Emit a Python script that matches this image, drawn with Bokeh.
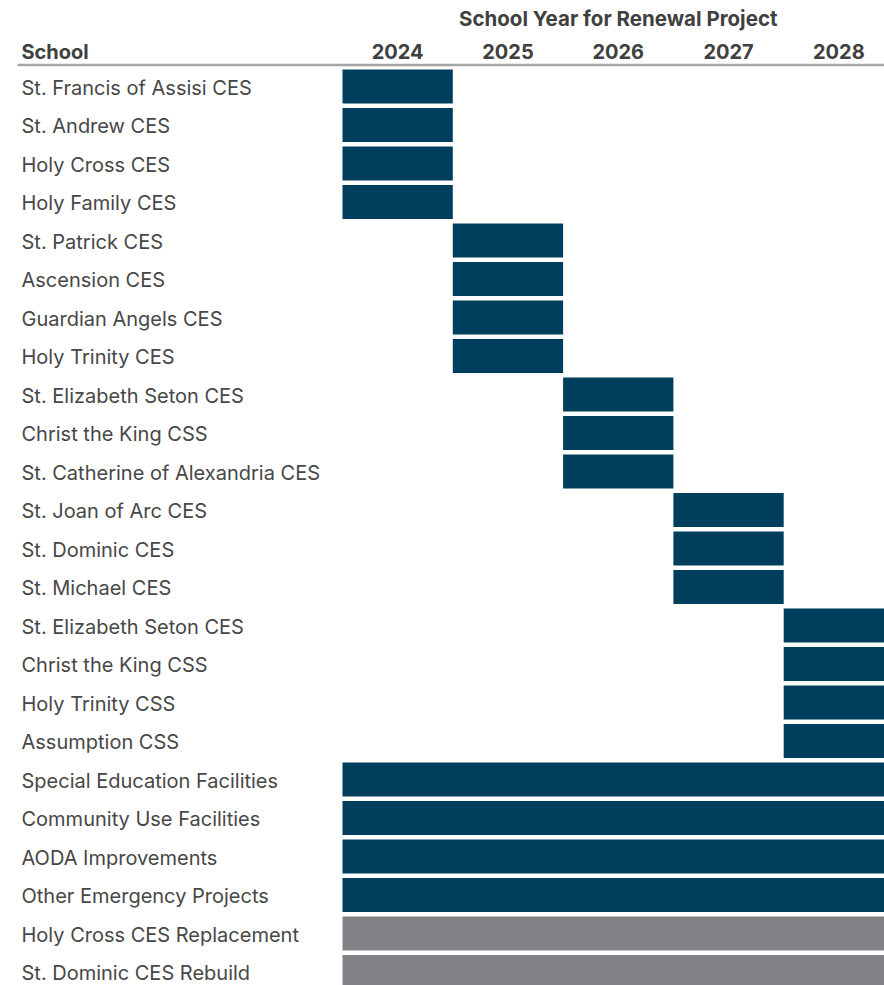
from bokeh.plotting import figure
from bokeh.models import Range1d, ColumnDataSource
from bokeh.core.properties import value
from bokeh.embed import file_html
from bokeh.resources import INLINE

# ---- data ----
years = [2024, 2025, 2026, 2027, 2028]
year_labels = ["2024", "2025", "2026", "2027", "2028"]
schools = [
    "St. Francis of Assisi CES", "St. Andrew CES", "Holy Cross CES", "Holy Family CES",
    "St. Patrick CES", "Ascension CES", "Guardian Angels CES", "Holy Trinity CES",
    "St. Elizabeth Seton CES", "Christ the King CSS", "St. Catherine of Alexandria CES",
    "St. Joan of Arc CES", "St. Dominic CES", "St. Michael CES",
    "St. Elizabeth Seton CES", "Christ the King CSS", "Holy Trinity CSS", "Assumption CSS",
    "Special Education Facilities", "Community Use Facilities", "AODA Improvements",
    "Other Emergency Projects", "Holy Cross CES Replacement", "St. Dominic CES Rebuild",
]
start_year = [2024, 2024, 2024, 2024, 2025, 2025, 2025, 2025, 2026, 2026, 2026,
              2027, 2027, 2027, 2028, 2028, 2028, 2028, 2024, 2024, 2024, 2024, 2024, 2024]
end_year = [2024, 2024, 2024, 2024, 2025, 2025, 2025, 2025, 2026, 2026, 2026,
            2027, 2027, 2027, 2028, 2028, 2028, 2028, 2028, 2028, 2028, 2028, 2028, 2028]
kind = ["renewal"] * 22 + ["new"] * 2
header_title = "School Year for Renewal Project"
header_school = "School"

# ---- styling / layout ----
W, H = 884, 985
NAVY = "#003e5e"
GRAY = "#808285"
TEXT = "#474747"
HEAD = "#404040"
FONT = "Inter"

COL_W = 110.3      # px per year column
X0_PX = 342        # left edge of 2024 column
ROW0_PX = 86       # center of first row
ROW_H = 38.5       # row pitch


def xdata(px):
    return 2023.5 + (px - X0_PX) / COL_W


def ydata(px):
    return (px - ROW0_PX) / ROW_H


p = figure(width=W, height=H, output_backend="svg", toolbar_location=None,
           x_range=Range1d(xdata(0), xdata(W)), y_range=Range1d(ydata(H), ydata(0)),
           min_border=0, x_axis_location=None, y_axis_location=None,
           background_fill_color="white", border_fill_color="white")
p.outline_line_color = None
p.xgrid.visible = False
p.ygrid.visible = False

rows = list(range(len(schools)))
src = ColumnDataSource(dict(
    y=rows,
    left=[s - 0.5 for s in start_year],
    right=[e + 0.5 for e in end_year],
    color=[NAVY if k == "renewal" else GRAY for k in kind],
    name=schools,
    tx=[xdata(21)] * len(schools),
))
p.hbar(y="y", left="left", right="right", height=34 / ROW_H, fill_color="color",
       line_color=None, source=src)

p.text(x="tx", y="y", text="name", source=src, text_font=value(FONT),
       text_font_size="20px", text_color=TEXT, text_baseline="middle", text_align="left",
       y_offset=1)

# header line
p.segment(x0=[xdata(17)], x1=[xdata(W)], y0=[ydata(64.5)], y1=[ydata(64.5)],
          line_color="#a6a6a6", line_width=2.5)

# header texts
p.text(x=years, y=[ydata(51)] * len(years), text=year_labels, text_font=value(FONT),
       text_font_style="bold", text_font_size="20px", text_color=HEAD,
       text_align="center", text_baseline="middle")
p.text(x=[xdata(21)], y=[ydata(51)], text=[header_school], text_font=value(FONT),
       text_font_style="bold", text_font_size="20px", text_color=HEAD,
       text_align="left", text_baseline="middle")
p.text(x=[(years[0] + years[-1]) / 2], y=[ydata(18)], text=[header_title],
       text_font=value(FONT), text_font_style="bold", text_font_size="20.5px",
       text_color=HEAD, text_align="center", text_baseline="middle")

open("out.html", "w").write(file_html(p, INLINE))
